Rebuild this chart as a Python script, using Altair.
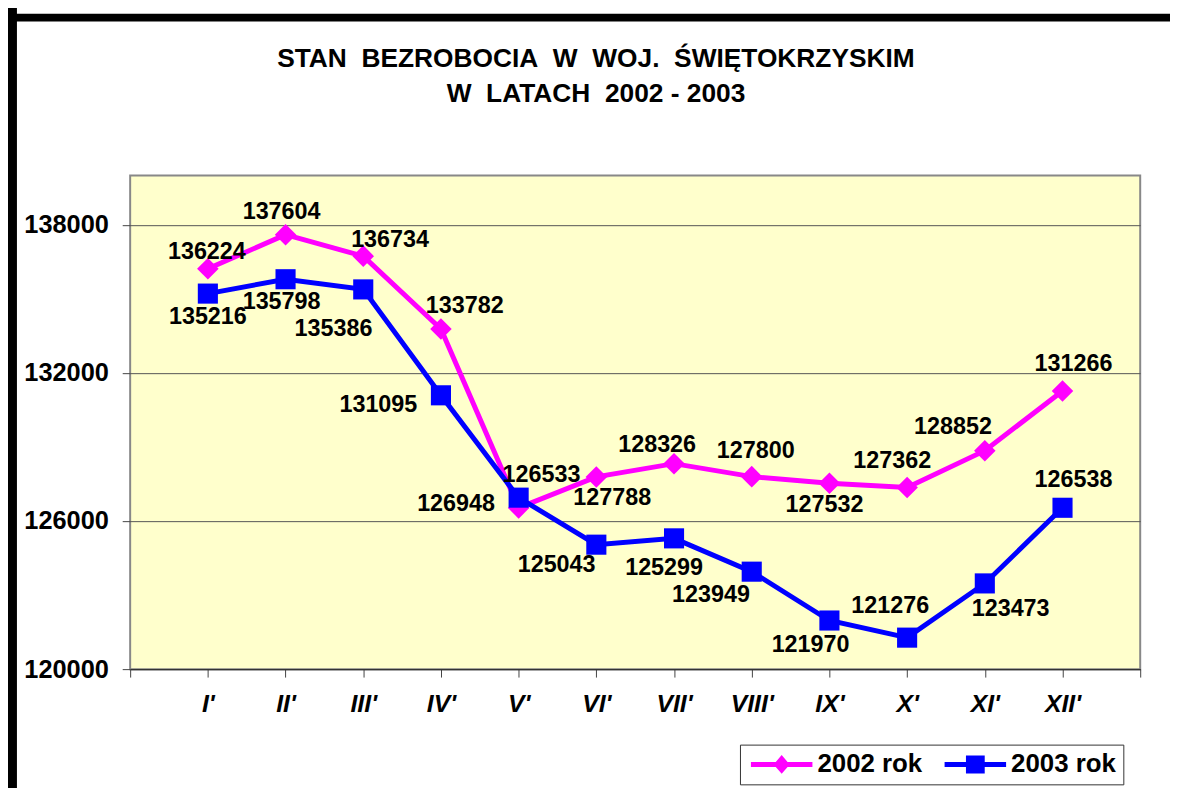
import altair as alt
import pandas as pd

# ---- data ----
months = ["I'", "II'", "III'", "IV'", "V'", "VI'", "VII'", "VIII'", "IX'", "X'", "XI'", "XII'"]
series_names = ["2002 rok", "2003 rok"]
values_2002 = [136224, 137604, 136734, 133782, 126533, 127788, 128326, 127800, 127532, 127362, 128852, 131266]
values_2003 = [135216, 135798, 135386, 131095, 126948, 125043, 125299, 123949, 121970, 121276, 123473, 126538]
y_ticks = [120000, 126000, 132000, 138000]
title_lines = ["STAN\u00a0 BEZROBOCIA\u00a0 W\u00a0 WOJ.\u00a0 ŚWIĘTOKRZYSKIM", "W\u00a0 LATACH\u00a0 2002 - 2003"]

# manual data-label placement (pixel offsets from each point), as in the original
label_dx_2002 = [-1, -4, 27, 24, 23, 16, -17, 4, -5, -15, -32, 11]
label_dy_2002 = [-17, -23, -16, -23, -33, 21, -19, -26, 22, -27, -24, -27]
label_dx_2003 = [0, -4, -30, -63, -63, -40, -10, -41, -19, -17, 26, 11]
label_dy_2003 = [24, 23, 40, 10, 6, 21, 30, 24, 25, -32, 26, -28]

rows = []
for s, vals, ldx, ldy in [(series_names[0], values_2002, label_dx_2002, label_dy_2002),
                          (series_names[1], values_2003, label_dx_2003, label_dy_2003)]:
    for i, m in enumerate(months):
        rows.append({"idx": i + 1, "month": m, "series": s, "value": vals[i],
                     "ldx": ldx[i], "ldy": ldy[i]})
df = pd.DataFrame(rows)

FONT = "Liberation Sans"
W, H = 1017, 497
colors = ["#FF00FF", "#0000FF"]

label_array = "[" + ",".join('"%s"' % m for m in [""] + months + [""]) + "]"

x_enc = alt.X("idx:Q",
              scale=alt.Scale(domain=[0, 13], nice=False, zero=False),
              axis=alt.Axis(values=list(range(14)), labelExpr=label_array + "[datum.value]",
                            title=None, grid=False, labelFont=FONT, labelFontSize=25,
                            labelFontWeight="bold", labelFontStyle="italic", labelColor="black",
                            labelBaseline="middle", labelPadding=27, tickSize=8,
                            tickColor="#444", domainColor="#333", domainWidth=1.5,
                            labelOverlap=False))
y_enc = alt.Y("value:Q",
              scale=alt.Scale(domain=[120000, 140000], nice=False, zero=False),
              axis=alt.Axis(values=y_ticks, format="d", title=None, grid=True,
                            gridColor="#555", gridWidth=1, domain=False,
                            labelFont=FONT, labelFontSize=25.5, labelFontWeight="bold",
                            labelColor="black", labelPadding=14, tickSize=8, tickColor="#444"))
color_enc = alt.Color("series:N", scale=alt.Scale(domain=series_names, range=colors), legend=None)

base = alt.Chart(df)

lines = base.mark_line(strokeWidth=5).encode(x=x_enc, y=y_enc, color=color_enc)

pts_2002 = base.transform_filter(alt.datum.series == series_names[0]).mark_point(
    shape="diamond", filled=True, size=470, opacity=1).encode(x="idx:Q", y="value:Q", color=color_enc)
pts_2003 = base.transform_filter(alt.datum.series == series_names[1]).mark_point(
    shape="square", filled=True, size=410, opacity=1).encode(x="idx:Q", y="value:Q", color=color_enc)

labels = base.mark_text(font=FONT, fontSize=23.5, fontWeight="bold", color="black",
                        align="center", baseline="middle",
                        dx=alt.ExprRef("datum.ldx"), dy=alt.ExprRef("datum.ldy")).encode(
    x="idx:Q", y="value:Q", text=alt.Text("value:Q", format="d"))

# legend: line + marker symbols
path_2002 = ("M-3.44,-0.28L-0.66,-0.28L0,-1.05L0.66,-0.28L3.44,-0.28L3.44,0.28"
             "L0.66,0.28L0,1.05L-0.66,0.28L-3.44,0.28Z")
path_2003 = ("M-3.44,-0.28L-1.05,-0.28L-1.05,-1L1.05,-1L1.05,-0.28L3.44,-0.28L3.44,0.28"
             "L1.05,0.28L1.05,1L-1.05,1L-1.05,0.28L-3.44,0.28Z")
leg = alt.Legend(title=None, orient="none", legendX=614, legendY=573,
                 direction="horizontal", symbolSize=324)
legend_layer = alt.Chart(df, name="legend").transform_filter("false").mark_point(
    filled=True, size=324, opacity=1).encode(
    x="idx:Q", y="value:Q",
    color=alt.Color("series:N", scale=alt.Scale(domain=series_names, range=colors), legend=leg),
    shape=alt.Shape("series:N", scale=alt.Scale(domain=series_names, range=[path_2002, path_2003]),
                    legend=leg))

# decorative outer frame (black border of the chart area) and title
one = alt.Data(values=[{"a": 1}])
left_bar = alt.Chart(one).mark_rule(color="black", strokeWidth=9).encode(
    x=alt.value(-118.5), y=alt.value(-175), y2=alt.value(700))
top_bar = alt.Chart(one).mark_rule(color="black", strokeWidth=8).encode(
    x=alt.value(-123), x2=alt.value(1100), y=alt.value(-159))
title1 = alt.Chart(one).mark_text(font=FONT, fontSize=26.5, fontWeight="bold", color="black",
                                  align="center", baseline="middle").encode(
    x=alt.value(469), y=alt.value(-117), text=alt.value(title_lines[0]))
title2 = alt.Chart(one).mark_text(font=FONT, fontSize=26.5, fontWeight="bold", color="black",
                                  align="center", baseline="middle").encode(
    x=alt.value(469), y=alt.value(-82), text=alt.value(title_lines[1]))

chart = alt.layer(left_bar, top_bar, title1, title2, lines, pts_2002, pts_2003, labels,
                  legend_layer).resolve_scale(shape="independent", color="independent").properties(
    width=W, height=H,
    padding={"left": 123, "top": 166, "right": 30, "bottom": 117},
    autosize=alt.AutoSizeParams(type="none"),
    background="white",
).configure_view(
    fill="#FFFFCC", stroke="#888888", strokeWidth=2
).configure_legend(
    labelFont=FONT, labelFontSize=26, labelFontWeight="bold", labelColor="black",
    strokeColor="#333333", fillColor="white", padding=7,
    symbolOffset=22, labelOffset=23, columnPadding=18, symbolStrokeWidth=0,
    labelLimit=300,
)

chart.save("out.html", embed_options={"renderer": "svg", "actions": False})
